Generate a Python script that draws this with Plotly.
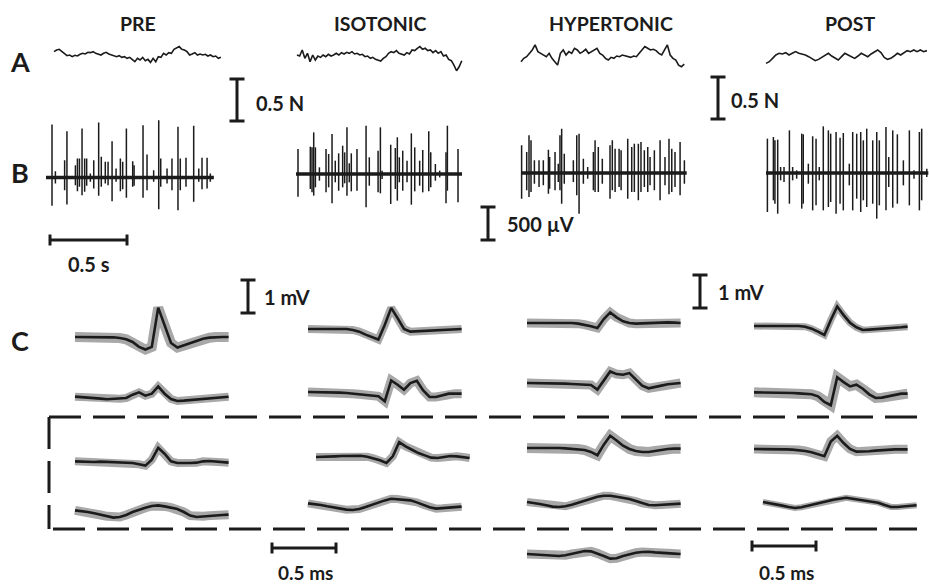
import numpy as np
import plotly.graph_objects as go

W, H = 929, 585

# ---------------- scale factors (pixels per unit) ----------------
PX_PER_S = 154.0      # 0.5 s  -> 77 px
PX_PER_N = 84.0       # 0.5 N  -> 42 px
PX_PER_UV = 0.066     # 500 uV -> 33 px
PX_PER_MS = 128.0     # 0.5 ms -> 64 px
PX_PER_MV = 33.0      # 1 mV   -> 33 px

CONDITIONS = ["PRE", "ISOTONIC", "HYPERTONIC", "POST"]
ROW_LABELS = ["A", "B", "C"]

# ---------------- Row A: force traces (N, relative) ----------------
FORCE_PRE = [0.04, 0.06, 0.068, 0.04, 0.012, -0.008, 0, -0.02, -0.004, -0.012, 0.008, 0.02, 0.012,
             0.032, 0.028, 0.04, 0.02, 0.008, 0, 0.02, 0.032, 0.012, 0, -0.012, -0.02, -0.008, -0.028,
             -0.02, -0.04, -0.028, -0.052, -0.08, -0.04, -0.06, -0.028, -0.068, -0.052, -0.088, -0.04,
             -0.08, -0.02, -0.028, 0.02, 0, 0.028, 0.02, 0.068, 0.08, 0.1, 0.068, 0.06, 0.04, 0, 0.012,
             0.028, 0, 0.012, 0, 0.008, -0.012, 0, -0.02, -0.012, -0.04, -0.028]
FORCE_ISO = [0, -0.012, 0.06, -0.04, 0.02, -0.08, 0, -0.06, -0.012, -0.028, 0, -0.02, 0.008, -0.012,
             0, 0.02, 0, 0.028, 0.012, 0.032, 0.02, 0.04, 0.012, 0.02, 0, 0.008, -0.02, -0.012, -0.04,
             -0.028, -0.052, -0.06, -0.072, -0.04, -0.02, 0.02, 0.04, 0.028, 0.052, 0.02, 0.012, 0,
             0.028, 0.012, 0.06, 0.052, 0.08, 0.1, 0.068, 0.08, 0.052, 0.06, 0.028, 0.052, 0.02, 0.04,
             -0.012, 0, -0.052, -0.068, -0.12, -0.188, -0.14, -0.068]
FORCE_HYP = [-0.08, -0.04, -0.02, 0.02, 0.06, 0.12, 0.04, 0.02, 0, -0.02, 0.02, -0.04, -0.08, -0.12,
             0.02, 0.06, 0, 0.04, 0.02, 0.08, 0.06, 0.02, 0.04, 0.068, 0.02, 0.04, 0.06, 0.08, 0.02, 0,
             -0.04, -0.06, -0.028, -0.04, -0.012, -0.02, 0, -0.012, -0.02, -0.028, -0.012, -0.02, 0.02,
             0.06, 0.1, 0.08, 0.06, 0.068, 0.052, 0.02, 0, 0.06, 0.12, 0, -0.04, -0.06, -0.12, -0.14,
             -0.108]
FORCE_POST = [-0.1, -0.08, -0.04, 0, 0.02, 0.012, 0.028, 0, 0.02, 0.04, 0.02, 0.012, 0, -0.02, -0.04,
              -0.068, -0.052, -0.028, 0, 0.02, -0.012, -0.04, -0.06, -0.02, 0.02, 0, -0.02, -0.04,
              -0.012, 0.02, 0, -0.02, 0.012, 0.04, 0.06, 0.028, -0.028, -0.052, -0.04, -0.012, 0.02, 0,
              0.028, 0.052, 0.04, 0.06, 0.04, 0.06, 0.04, 0.052]
FORCE_DUR_S = [1.084, 1.07, 1.06, 1.045]

# ---------------- Row B: spike trains (time s, up/down amplitude uV) ----------------
PRE_T = [0.039, 0.061, 0.121, 0.136, 0.191, 0.204, 0.217, 0.234, 0.251, 0.264, 0.288, 0.310, 0.342,
         0.359, 0.385, 0.403, 0.429, 0.455, 0.483, 0.498, 0.522, 0.563, 0.572, 0.630, 0.656, 0.699,
         0.732, 0.745, 0.786, 0.818, 0.857, 0.872, 0.909, 0.959, 0.992, 1.013, 1.046, 1.067]
PRE_UP = [803, 96, 263, 702, 187, 288, 288, 742, 288, 288, 61, 263, 833, 313, 237, 237, 550, 136, 288,
          237, 742, 247, 187, 793, 348, 111, 869, 288, 136, 288, 768, 288, 298, 783, 136, 298, 298, 61]
PRE_DN = [429, 91, 192, 409, 116, 207, 141, 268, 217, 126, 66, 167, 278, 141, 91, 116, 359, 66, 207,
          177, 308, 141, 126, 308, 192, 66, 480, 141, 91, 192, 495, 192, 141, 369, 66, 177, 167, 66]

ISO_T = [0.013, 0.093, 0.104, 0.115, 0.126, 0.152, 0.195, 0.212, 0.234, 0.255, 0.277, 0.303, 0.316,
         0.331, 0.346, 0.359, 0.396, 0.455, 0.476, 0.533, 0.548, 0.559, 0.615, 0.645, 0.658, 0.671,
         0.693, 0.721, 0.749, 0.771, 0.803, 0.823, 0.862, 0.875, 0.905, 0.933, 0.974, 0.983, 1.052]
ISO_UP = [379, 414, 404, 631, 404, 101, 379, 303, 606, 202, 313, 429, 328, 707, 162, 313, 379, 732,
          253, 354, 707, 51, 444, 394, 556, 253, 354, 202, 616, 404, 202, 364, 646, 328, 152, 51, 328,
          732, 379]
ISO_DN = [343, 227, 278, 328, 202, 101, 278, 202, 444, 126, 253, 202, 141, 328, 126, 263, 253, 505,
          177, 278, 293, 76, 455, 227, 404, 126, 253, 126, 465, 263, 177, 278, 263, 202, 101, 51, 444,
          253, 429]

HYP_T = [0.004, 0.037, 0.052, 0.065, 0.087, 0.117, 0.145, 0.178, 0.186, 0.221, 0.242, 0.253, 0.264,
         0.281, 0.340, 0.362, 0.377, 0.405, 0.433, 0.470, 0.481, 0.502, 0.528, 0.578, 0.593, 0.611,
         0.637, 0.650, 0.693, 0.719, 0.736, 0.762, 0.779, 0.801, 0.823, 0.838, 0.866, 0.903, 0.935,
         0.961, 0.979, 1.000, 1.033, 1.061]
HYP_UP = [419, 318, 571, 495, 192, 192, 192, 354, 242, 318, 141, 571, 672, 293, 192, 571, 596, 217, 91,
          318, 495, 394, 217, 419, 495, 369, 369, 343, 520, 394, 444, 444, 470, 343, 394, 242, 343, 495,
          242, 520, 369, 318, 470, 192]
HYP_DN = [389, 263, 364, 288, 162, 212, 187, 313, 237, 263, 136, 263, 465, 162, 136, 338, 616, 162, 86,
          263, 288, 288, 162, 389, 263, 288, 212, 263, 389, 288, 288, 414, 288, 212, 288, 187, 263, 414,
          187, 323, 288, 212, 338, 162]

POST_T = [0.009, 0.048, 0.058, 0.076, 0.095, 0.117, 0.152, 0.173, 0.199, 0.232, 0.242, 0.275, 0.303,
          0.325, 0.346, 0.372, 0.405, 0.420, 0.455, 0.481, 0.502, 0.541, 0.563, 0.589, 0.615, 0.632,
          0.654, 0.693, 0.719, 0.736, 0.779, 0.797, 0.823, 0.853, 0.892, 0.931, 0.961, 0.996, 1.011,
          1.044]
POST_UP = [520, 545, 495, 505, 91, 91, 646, 91, 40, 596, 586, 141, 556, 520, 91, 707, 646, 596, 621, 535,
           606, 141, 621, 596, 621, 495, 672, 495, 621, 495, 697, 242, 646, 586, 192, 646, 40, 621, 672,
           66]
POST_DN = [591, 414, 465, 616, 111, 136, 465, 111, 86, 540, 465, 162, 566, 490, 111, 566, 515, 439, 616,
           465, 566, 187, 566, 389, 591, 414, 515, 465, 692, 490, 566, 212, 525, 465, 187, 490, 86, 566,
           414, 61]
TRAIN_DUR_S = [1.09, 1.078, 1.076, 1.054]

# ---------------- Row C: mean spike waveforms (mV, 0.05 ms sampling) ----------------
WAVE_DT_MS = 0.05
PRE_W1 = [0, 0, 0, 0.01, 0, 0, -0.01, -0.03, -0.07, -0.15, -0.30, -0.38, -0.30, 0.89, 0.35, -0.18, -0.32,
          -0.25, -0.17, -0.10, -0.05, -0.02, 0, 0, 0]
PRE_W2 = [0.01, 0, -0.01, -0.03, -0.05, -0.07, -0.06, -0.05, -0.03, 0.07, 0.14, 0.04, 0.10, 0.32, 0.10,
          -0.06, -0.12, -0.11, -0.09, -0.08, -0.06, -0.05, -0.03, -0.01, 0.01]
PRE_W3 = [0.02, 0.01, 0, 0, 0.01, 0, -0.01, 0, -0.01, -0.03, -0.07, -0.11, 0.07, 0.43, 0.25, 0.02, -0.03,
          -0.04, -0.03, -0.02, 0.02, 0.03, 0.01, -0.01, -0.02]
PRE_W4 = [0.05, 0.03, 0, -0.04, -0.09, -0.13, -0.17, -0.15, -0.09, 0, 0.07, 0.13, 0.18, 0.20, 0.17, 0.13,
          0.09, 0, -0.11, -0.15, -0.13, -0.11, -0.10, -0.09, -0.08]
ISO_W1 = [0, 0, 0, 0.01, 0.01, 0.01, 0, -0.03, -0.08, -0.17, -0.25, -0.32, 0.13, 0.64, 0.33, 0, -0.08,
          -0.07, -0.05, -0.03, -0.02, -0.01, 0, 0, 0]
ISO_W2 = [0, 0, 0, -0.01, -0.01, -0.02, -0.03, -0.05, -0.07, -0.09, -0.11, -0.13, -0.28, 0.35, 0.22, 0.07,
          0.27, 0.34, 0.05, -0.15, -0.15, -0.11, -0.05, -0.05, -0.05]
ISO_W3 = [0, 0, 0.01, 0.02, 0.03, 0.04, 0.05, 0.04, 0.01, -0.04, -0.10, -0.18, 0.02, 0.45, 0.32, 0.22,
          0.12, 0.05, -0.02, -0.03, 0, 0.03, 0.02, 0, -0.03]
ISO_W4 = [0.05, 0.03, 0, -0.04, -0.08, -0.11, -0.14, -0.15, -0.12, -0.06, 0.01, 0.08, 0.14, 0.19, 0.18,
          0.15, 0.14, 0.08, 0.01, -0.07, -0.11, -0.10, -0.08, -0.07, -0.05]
HYP_W1 = [0, 0, 0.01, 0.02, 0.02, 0.01, 0, 0, -0.02, -0.05, -0.10, -0.15, 0.12, 0.32, 0.17, 0.05, 0,
          -0.02, -0.01, 0, 0.01, 0.02, 0.02, 0.01, 0]
HYP_W2 = [0, 0, 0, -0.01, -0.01, -0.02, -0.02, -0.03, -0.04, -0.05, -0.06, -0.20, 0.08, 0.35, 0.27, 0.25,
          0.30, 0.12, -0.08, -0.16, -0.13, -0.08, -0.04, -0.01, 0]
HYP_W3 = [0, 0, 0.01, 0.02, 0.01, 0, -0.01, -0.02, -0.03, -0.06, -0.12, -0.22, 0.10, 0.37, 0.23, 0.07,
          -0.03, -0.09, -0.12, -0.12, -0.09, -0.05, -0.03, -0.02, -0.02]
HYP_W4 = [0, -0.02, -0.06, -0.10, -0.14, -0.15, -0.13, -0.08, -0.02, 0.05, 0.11, 0.16, 0.19, 0.19, 0.16,
          0.13, 0.09, 0.03, -0.04, -0.09, -0.10, -0.09, -0.07, -0.06, -0.05]
HYP_W5 = [0, -0.01, -0.02, -0.04, -0.05, -0.06, -0.04, 0, 0.04, 0.09, 0.08, 0.02, -0.06, -0.14, -0.13,
          -0.06, 0, 0.04, 0.06, 0.07, 0.05, 0.03, 0.02, 0.01, 0]
POST_W1 = [0, 0, 0, 0, 0.01, 0.01, 0.01, 0, -0.02, -0.08, -0.17, -0.27, 0.18, 0.59, 0.33, 0.10, -0.04,
           -0.12, -0.11, -0.10, -0.08, -0.07, -0.06, -0.04, -0.02]
POST_W2 = [0.02, 0.02, 0.02, 0.01, 0.01, 0, 0, -0.01, -0.02, -0.04, -0.10, -0.27, -0.37, 0.48, 0.33, 0.20,
           0.25, 0.13, -0.04, -0.15, -0.14, -0.10, -0.04, -0.02, -0.02]
POST_W3 = [0, 0, 0.01, 0.01, 0, -0.01, -0.02, -0.03, -0.06, -0.10, -0.16, -0.22, 0.23, 0.40, 0.18, 0,
           -0.08, -0.08, -0.07, -0.05, -0.03, -0.02, -0.01, -0.01, -0.01]
POST_W4 = [0, -0.03, -0.07, -0.11, -0.15, -0.18, -0.16, -0.12, -0.08, -0.03, 0.02, 0.07, 0.11, 0.13, 0.10,
           0.07, 0.05, 0.03, -0.02, -0.09, -0.15, -0.15, -0.14, -0.12, -0.10]

# ---------------- layout (pixel placement of panels) ----------------
FORCE_POS = [(54, 55), (297, 55), (521, 55), (766, 55)]          # (x of t=0, y of 0 N)
TRAIN_POS = [(46, 177.5), (296, 174), (521, 173), (766, 173)]   # (x of t=0, y of 0 uV)
WAVES = [
    (PRE_W1, 75, 337, 10), (PRE_W2, 75, 397, 8), (PRE_W3, 75, 462, 8), (PRE_W4, 75, 512, 9),
    (ISO_W1, 308, 329, 8), (ISO_W2, 308, 392, 9), (ISO_W3, 316, 457, 8), (ISO_W4, 308, 505, 8),
    (HYP_W1, 527, 323, 9), (HYP_W2, 527, 383, 9), (HYP_W3, 527, 448, 10), (HYP_W4, 527, 502, 8),
    (HYP_W5, 527, 554, 9),
    (POST_W1, 754, 326, 7), (POST_W2, 754, 393, 10), (POST_W3, 754, 449, 9), (POST_W4, 763, 502, 6),
]

INK = "#1b1b1b"
GREY = "#a8a8a8"
FONT = "Lato, Open Sans, sans-serif"

fig = go.Figure()
axes_layout = {}
counter = [1]


def new_axes(x0_px, y0_px, xr, yr, ppx, ppy):
    counter[0] += 1
    i = counter[0]
    xr = [max(xr[0], -x0_px / ppx + 1e-6), min(xr[1], (W - x0_px) / ppx - 1e-6)]
    yr = [max(yr[0], (y0_px - H) / ppy + 1e-6), min(yr[1], y0_px / ppy - 1e-6)]
    xd = [(x0_px + xr[0] * ppx) / W, (x0_px + xr[1] * ppx) / W]
    yd = [1 - (y0_px - yr[0] * ppy) / H, 1 - (y0_px - yr[1] * ppy) / H]
    axes_layout[f"xaxis{i}"] = dict(domain=xd, range=xr, visible=False, anchor=f"y{i}", fixedrange=True)
    axes_layout[f"yaxis{i}"] = dict(domain=yd, range=yr, visible=False, anchor=f"x{i}", fixedrange=True)
    return f"x{i}", f"y{i}"


# Row A
for vals, dur, (x0, y0) in zip([FORCE_PRE, FORCE_ISO, FORCE_HYP, FORCE_POST], FORCE_DUR_S, FORCE_POS):
    t = np.linspace(0, dur, len(vals))
    xa, ya = new_axes(x0, y0, [-0.02, dur + 0.02], [-0.3, 0.3], PX_PER_S, PX_PER_N)
    fig.add_trace(go.Scatter(x=t, y=vals, mode="lines", line=dict(color=INK, width=1.6),
                             xaxis=xa, yaxis=ya, hoverinfo="skip", showlegend=False))

# Row B
for (ts, up, dn), dur, (x0, y0) in zip([(PRE_T, PRE_UP, PRE_DN), (ISO_T, ISO_UP, ISO_DN),
                                        (HYP_T, HYP_UP, HYP_DN), (POST_T, POST_UP, POST_DN)],
                                       TRAIN_DUR_S, TRAIN_POS):
    xa, ya = new_axes(x0, y0, [-0.02, dur + 0.02], [-1000, 1000], PX_PER_S, PX_PER_UV)
    fig.add_trace(go.Scatter(x=[0, dur], y=[0, 0], mode="lines", line=dict(color=INK, width=3.5),
                             xaxis=xa, yaxis=ya, hoverinfo="skip", showlegend=False))
    xs, ys = [], []
    for t, u, d in zip(ts, up, dn):
        xs += [t, t, None]
        ys += [-d, u, None]
    fig.add_trace(go.Scatter(x=xs, y=ys, mode="lines", line=dict(color=INK, width=1.5),
                             xaxis=xa, yaxis=ya, hoverinfo="skip", showlegend=False))

# Row C
for vals, x0, y0, band in WAVES:
    t = np.arange(len(vals)) * WAVE_DT_MS
    dur = t[-1]
    xa, ya = new_axes(x0, y0, [-0.05, dur + 0.05], [-0.7, 1.1], PX_PER_MS, PX_PER_MV)
    fig.add_trace(go.Scatter(x=t, y=vals, mode="lines", line=dict(color=GREY, width=band),
                             xaxis=xa, yaxis=ya, hoverinfo="skip", showlegend=False))
    fig.add_trace(go.Scatter(x=t, y=vals, mode="lines", line=dict(color=INK, width=2.6),
                             xaxis=xa, yaxis=ya, hoverinfo="skip", showlegend=False))

# ---------------- overlay: scale bars, dashed bracket, text ----------------
shapes = []


def seg(x0, y0, x1, y1, w=3, dash=None):
    ln = dict(color=INK, width=w)
    if dash:
        ln["dash"] = dash
    shapes.append(dict(type="line", xref="x", yref="y", x0=x0, y0=y0, x1=x1, y1=y1, line=ln, layer="above"))


def vbar(x, ytop, length_px, serif=15):
    seg(x, ytop, x, ytop + length_px)
    seg(x - serif / 2, ytop, x + serif / 2, ytop)
    seg(x - serif / 2, ytop + length_px, x + serif / 2, ytop + length_px)


def hbar(xleft, y, length_px, serif=11):
    seg(xleft, y, xleft + length_px, y)
    seg(xleft, y - serif / 2, xleft, y + serif / 2)
    seg(xleft + length_px, y - serif / 2, xleft + length_px, y + serif / 2)


vbar(237, 79, 0.5 * PX_PER_N)
vbar(718, 77, 0.5 * PX_PER_N)
vbar(488, 207, 500 * PX_PER_UV)
hbar(50, 240, 0.5 * PX_PER_S)
vbar(248, 280, 1 * PX_PER_MV)
vbar(700, 275, 1 * PX_PER_MV)
hbar(272, 548, 0.5 * PX_PER_MS)
hbar(752, 546, 0.5 * PX_PER_MS)

# dashed bracket around the lower waveforms
DASH = "32px,12px"
seg(49, 417, 917, 417, dash=DASH)
seg(49, 417, 49, 529, dash=DASH)
seg(53, 529, 917, 529, dash=DASH)

annotations = []


def text(x, y, s, size=19, xanchor="center"):
    annotations.append(dict(x=x, y=y, xref="x", yref="y", text=f"<b>{s}</b>", showarrow=False,
                            xanchor=xanchor, yanchor="middle",
                            font=dict(family=FONT, size=size, color=INK)))


for name, cx in zip(CONDITIONS, [138, 380, 611, 850]):
    text(cx, 23, name, size=19.5)
for lab, cy in zip(ROW_LABELS, [61, 172, 340]):
    text(20, cy, lab, size=27)
text(254, 103, "0.5 N", xanchor="left", size=20)
text(729, 100, "0.5 N", xanchor="left", size=20)
text(505, 224, "500 µV", xanchor="left", size=20)
text(89, 264, "0.5 s", size=20)
text(262, 297, "1 mV", xanchor="left", size=20)
text(716, 292, "1 mV", xanchor="left", size=20)
text(305, 572, "0.5 ms", size=19)
text(786, 572, "0.5 ms", size=19)

fig.update_layout(
    width=W, height=H,
    margin=dict(l=0, r=0, t=0, b=0),
    paper_bgcolor="white", plot_bgcolor="rgba(0,0,0,0)",
    showlegend=False,
    xaxis=dict(domain=[0, 1], range=[0, W], visible=False, fixedrange=True),
    yaxis=dict(domain=[0, 1], range=[H, 0], visible=False, fixedrange=True),
    shapes=shapes,
    annotations=annotations,
    **axes_layout,
)

fig.write_html("out.html", config={"displayModeBar": False},
               post_script="document.body.style.margin='0';document.body.style.overflow='hidden';")
